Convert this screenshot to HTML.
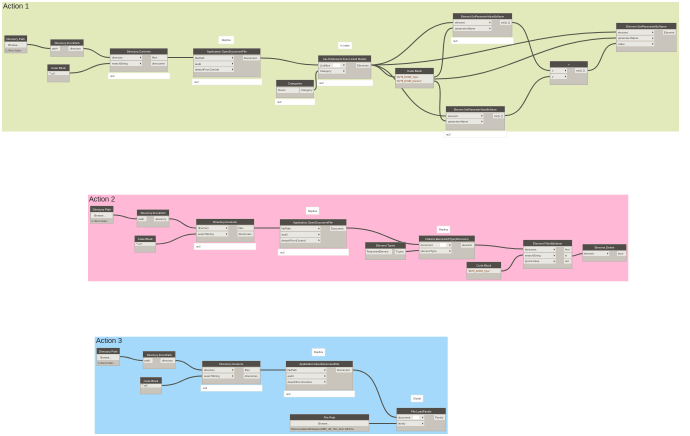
<!DOCTYPE html>
<html><head><meta charset="utf-8"><style>
html,body{margin:0;padding:0;background:#fff;width:690px;height:436px;overflow:hidden}
svg{display:block;filter:blur(.25px)}
text{font-family:"Liberation Sans",sans-serif}
.b{fill:#c9c5bc;stroke:#b3b0a8;stroke-width:.5}
.h{fill:#504c48}
.r{fill:#e9e7e1}
.n{fill:#fff}
.w{fill:#fff;stroke:#e8e8e0;stroke-width:.4}
.t{font-size:2.9px;fill:#f2f2f2;text-anchor:middle}
.l{font-size:2.8px;fill:#4a4a46}
.c{font-size:2.7px;fill:#444;text-anchor:middle}
.a{font-size:7.2px;fill:#222}
.x{fill:none;stroke:#4f5148;stroke-width:1}
</style></head><body>
<svg width="690" height="436" viewBox="0 0 690 436" xmlns="http://www.w3.org/2000/svg">
<rect x="2" y="2" width="677" height="129.5" fill="#e2e9ba"/>
<rect x="88" y="194.7" width="540.3" height="86.6" fill="#ffb8d6"/>
<rect x="94.7" y="336.7" width="353" height="97.3" fill="#a5d9fb"/>
<text class="a" x="3" y="8.5">Action 1</text>
<text class="a" x="89" y="201.5">Action 2</text>
<text class="a" x="96" y="343">Action 3</text>

<!-- connectors action 1 -->
<path class="x" d="M27 44.5C40 44.5 38 48.5 51 48.5M83 48.5C97 48.5 96 57.5 110 57.5M69.5 73C90 73 90 63.5 110 63.5M167.5 57.5H193.5M260 58C290 58 290 65 318.5 65M370 65C410 65 415 22.5 453 22.5M370 65C383 65 383 77 395.5 77M370 65C470 65 520 32 616.5 32M370 65C402 65 402 116 446 116M313.7 90C320 90 312 71 318.5 71M433.7 77C450 77 436 28 453 28M433.7 81C448 81 432 121 446 121M433.7 79C510 79 540 38 616.5 38M512 22.5C535 22.5 525 70.5 550 70.5M505 115.5C530 115.5 525 76.5 550 76.5M587.5 70.5C605 70.5 598 43.5 616.5 43.5"/>
<!-- connectors action 2 -->
<path class="x" d="M113.3 215C126 215 124 218.8 137 218.8M169 218.8C183 218.8 182 228 196.5 228M155.7 244C176 244 176 234 196.5 234M254 228H280M346.3 228C385 228 390 244.5 419 244.5M405.7 251.5C412 251.5 412 250.5 419 250.5M474.7 245C500 245 500 249 523.5 249M501 271C515 271 510 255 523.5 255M572 256C577 256 577 253.5 583 253.5"/>
<!-- connectors action 3 -->
<path class="x" d="M119.7 356.5C132 356.5 130 360.5 143 360.5M175.3 360.5C189 360.5 188 370 202.5 370M161.7 385.5C182 385.5 182 376 202.5 376M260.3 370H286M352.7 370C385 370 375 417.5 397 417.5M369 423.5H397"/>

<!-- ACTION 1 NODES -->
<g><rect class="b" x="4.5" y="35.5" width="22.5" height="17.5"/><rect class="h" x="4.5" y="35.5" width="22.5" height="6"/><text class="t" x="15.7" y="40">Directory Path</text><rect class="r" x="5" y="42" width="21.5" height="5.5"/><text class="c" x="14" y="45.8">Browse...</text><text class="l" x="5.5" y="51.4" style="font-size:2.5px">C:\Revit folder</text></g>
<g><rect class="b" x="50.5" y="39.5" width="33" height="17"/><rect class="h" x="50.5" y="39.5" width="33" height="6"/><text class="t" x="67" y="44">Directory.FromPath</text><rect class="r" x="51" y="46" width="9" height="5"/><text class="l" x="52" y="49.5">path</text><rect class="r" x="68.5" y="46" width="14.5" height="5"/><text class="l" x="70" y="49.5">directory</text></g>
<g><rect class="b" x="47.5" y="64.5" width="22" height="17.5"/><rect class="h" x="47.5" y="64.5" width="22" height="6.5"/><text class="t" x="58.5" y="69">Code Block</text><rect class="r" x="48" y="71.5" width="21" height="3.5"/><text class="l" x="49" y="74.3" style="font-size:2.4px">"*.rvt";</text></g>
<g><rect class="b" x="110" y="48.5" width="57.5" height="23"/><rect class="h" x="110" y="48.5" width="57.5" height="5.8"/><text class="t" x="138.7" y="52.6">Directory.Contents</text><rect class="r" x="110.5" y="55" width="31.5" height="5"/><rect class="r" x="110.5" y="61" width="31.5" height="5"/><rect class="r" x="151" y="55" width="16" height="5"/><rect class="r" x="151" y="61" width="16" height="5"/><text class="l" x="112" y="58.6">directory</text><text class="l" x="112" y="64.6">searchString</text><text class="l" x="152" y="58.6">files</text><text class="l" x="152" y="64.6">directories</text></g>
<rect class="w" x="108" y="73" width="62" height="6"/><text class="l" x="110" y="77">null</text>
<g><rect class="b" x="193.3" y="48.5" width="67" height="28.5"/><rect class="h" x="193.3" y="48.5" width="67" height="6"/><text class="t" x="226.8" y="52.7">Application.OpenDocumentFile</text><rect class="r" x="193.8" y="55.5" width="40" height="5"/><rect class="r" x="193.8" y="61.3" width="40" height="5"/><rect class="r" x="193.8" y="67" width="40" height="5"/><rect class="r" x="243" y="55.5" width="17" height="5"/><text class="l" x="195" y="59">filePath</text><text class="l" x="195" y="64.8">audit</text><text class="l" x="195" y="70.5">detachFromCentral</text><text class="l" x="244" y="59">Document</text></g>
<rect class="w" x="192" y="79" width="70" height="6"/><text class="l" x="194" y="83">null</text>
<rect class="w" x="218.5" y="36" width="15.5" height="8"/><text class="c" x="226.2" y="41">Replica</text>
<rect class="w" x="338" y="42" width="14" height="7"/><text class="c" x="345" y="46.5">In Index</text>
<g><rect class="b" x="318.3" y="55.5" width="52.7" height="23"/><rect class="h" x="318.3" y="55.5" width="52.7" height="6.3"/><text class="t" x="344.6" y="60" style="font-size:2.6px">Get All Elements From Linked Models</text><rect class="r" x="318.8" y="62.8" width="27" height="5"/><rect class="r" x="318.8" y="68.7" width="27" height="5"/><rect class="r" x="356" y="62.8" width="14.5" height="5"/><rect class="n" x="333" y="63.5" width="7" height="3.5"/><text class="l" x="320" y="66.4">Linkfiles</text><text class="l" x="320" y="72.2">Category</text><text class="l" x="357" y="66.4">Elements</text></g>
<rect class="w" x="317" y="80" width="56" height="6"/><text class="l" x="319" y="84">null</text>
<g><rect class="b" x="276.3" y="80" width="37.4" height="17.7"/><rect class="h" x="276.3" y="80" width="37.4" height="6.5"/><text class="t" x="295" y="84.6">Categories</text><rect class="r" x="277" y="87.5" width="22" height="5.5"/><rect class="r" x="300" y="87.5" width="13.5" height="5.5"/><text class="l" x="278" y="91">Doors</text><text class="l" x="301" y="91">Category</text></g>
<rect class="w" x="275" y="99" width="40" height="6"/><text class="l" x="277" y="103">null</text>
<g><rect class="b" x="395.3" y="68" width="38.4" height="20"/><rect class="h" x="395.3" y="68" width="38.4" height="6"/><text class="t" x="414.5" y="72.2">Code Block</text><rect class="r" x="396" y="74.7" width="37" height="8.5"/><text class="l" x="396.5" y="77.8" style="font-size:2.3px;fill:#8a4a20">"RVT8_DOOR_Type";</text><text class="l" x="396.5" y="81.8" style="font-size:2.3px;fill:#8a4a20">"RVT8_DOOR_Number";</text></g>
<g><rect class="b" x="453" y="13.3" width="59" height="23.2"/><rect class="h" x="453" y="13.3" width="59" height="5.7"/><text class="t" x="482.5" y="17.4" style="font-size:2.6px">Element.GetParameterValueByName</text><rect class="r" x="453.5" y="20" width="38" height="5"/><rect class="r" x="453.5" y="26" width="38" height="5"/><rect class="r" x="500" y="20" width="11.5" height="5"/><text class="l" x="455" y="23.5">element</text><text class="l" x="455" y="29.5">parameterName</text><text class="l" x="501" y="23.5">var[]..[]</text></g>
<rect class="w" x="451" y="37.5" width="62.5" height="6.5"/><text class="l" x="453" y="42">null</text>
<g><rect class="b" x="446" y="106.3" width="58.7" height="23.7"/><rect class="h" x="446" y="106.3" width="58.7" height="5.7"/><text class="t" x="475.3" y="110.4" style="font-size:2.6px">Element.GetParameterValueByName</text><rect class="r" x="446.5" y="113.3" width="37" height="5"/><rect class="r" x="446.5" y="119" width="37" height="5"/><rect class="r" x="493" y="113.3" width="11" height="5"/><text class="l" x="448" y="116.8">element</text><text class="l" x="448" y="122.5">parameterName</text><text class="l" x="494" y="116.8">var[]..[]</text></g>
<rect class="w" x="444" y="131" width="62.5" height="6.5"/><text class="l" x="446" y="135.5">null</text>
<g><rect class="b" x="550" y="61.3" width="37.7" height="23.4"/><rect class="h" x="550" y="61.3" width="37.7" height="6"/><text class="t" x="568.8" y="65.6">+</text><rect class="r" x="550.5" y="68" width="16.5" height="5"/><rect class="r" x="550.5" y="74" width="16.5" height="5"/><rect class="r" x="575" y="68" width="12" height="5"/><text class="l" x="552" y="71.5">x</text><text class="l" x="552" y="77.5">y</text><text class="l" x="576" y="71.5">var[]..[]</text></g>
<g><rect class="b" x="616.3" y="23" width="60" height="28.7"/><rect class="h" x="616.3" y="23" width="60" height="6"/><text class="t" x="646.3" y="27.3">Element.SetParameterByName</text><rect class="r" x="616.8" y="30" width="37.5" height="4.8"/><rect class="r" x="616.8" y="35.8" width="37.5" height="4.8"/><rect class="r" x="616.8" y="41.5" width="37.5" height="4.8"/><rect class="r" x="663" y="30" width="12.5" height="4.8"/><text class="l" x="618" y="33.4">element</text><text class="l" x="618" y="39.2">parameterName</text><text class="l" x="618" y="44.9">value</text><text class="l" x="664" y="33.4">Element</text></g>

<!-- ACTION 2 NODES -->
<g><rect class="b" x="90.3" y="206" width="23" height="17.3"/><rect class="h" x="90.3" y="206" width="23" height="6"/><text class="t" x="101.8" y="210.5">Directory Path</text><rect class="r" x="91" y="212.5" width="21.5" height="5.5"/><text class="c" x="100" y="216.3">Browse...</text><text class="l" x="91.5" y="221.8" style="font-size:2.5px">C:\Revit folder</text></g>
<g><rect class="b" x="137" y="209.7" width="32" height="17.3"/><rect class="h" x="137" y="209.7" width="32" height="6"/><text class="t" x="153" y="214.2">Directory.FromPath</text><rect class="r" x="137.5" y="216.3" width="9" height="5"/><text class="l" x="138.5" y="219.8">path</text><rect class="r" x="154" y="216.3" width="14.5" height="5"/><text class="l" x="155.5" y="219.8">directory</text></g>
<g><rect class="b" x="134.7" y="235.7" width="21" height="16.6"/><rect class="h" x="134.7" y="235.7" width="21" height="6.3"/><text class="t" x="145.2" y="240.2">Code Block</text><rect class="r" x="135.2" y="242.3" width="20" height="3.5"/><text class="l" x="136" y="245" style="font-size:2.4px">"*.rvt";</text></g>
<g><rect class="b" x="196.3" y="219" width="57.7" height="23"/><rect class="h" x="196.3" y="219" width="57.7" height="5.8"/><text class="t" x="225" y="223.1">Directory.Contents</text><rect class="r" x="196.8" y="225.5" width="31.5" height="5"/><rect class="r" x="196.8" y="231.5" width="31.5" height="5"/><rect class="r" x="237.5" y="225.5" width="16" height="5"/><rect class="r" x="237.5" y="231.5" width="16" height="5"/><text class="l" x="198" y="229">directory</text><text class="l" x="198" y="235">searchString</text><text class="l" x="238.5" y="229">files</text><text class="l" x="238.5" y="235">directories</text></g>
<rect class="w" x="194" y="243.3" width="62" height="6.4"/><text class="l" x="196" y="247.5">null</text>
<g><rect class="b" x="280" y="219.3" width="66.3" height="28.7"/><rect class="h" x="280" y="219.3" width="66.3" height="6"/><text class="t" x="313" y="223.5">Application.OpenDocumentFile</text><rect class="r" x="280.5" y="226" width="40" height="5"/><rect class="r" x="280.5" y="232" width="40" height="5"/><rect class="r" x="280.5" y="237.8" width="40" height="5"/><rect class="r" x="330" y="226" width="16" height="5"/><text class="l" x="281.5" y="229.5">filePath</text><text class="l" x="281.5" y="235.5">audit</text><text class="l" x="281.5" y="241.3">detachFromCentral</text><text class="l" x="330.7" y="229.5">Document</text></g>
<rect class="w" x="278" y="249" width="70.7" height="6.5"/><text class="l" x="280" y="253.5">null</text>
<rect class="w" x="306" y="207" width="13" height="7.5"/><text class="c" x="312.5" y="211.8">Replica</text>
<g><rect class="b" x="365.3" y="242.3" width="40.4" height="17.4"/><rect class="h" x="365.3" y="242.3" width="40.4" height="6.2"/><text class="t" x="385.5" y="246.7">Element Types</text><rect class="r" x="366" y="249" width="26" height="5.3"/><rect class="r" x="395" y="249" width="10.3" height="5.3"/><text class="l" x="366.7" y="252.5" style="font-size:2.6px">ParameterElement</text><text class="l" x="396" y="252.5">Types</text></g>
<g><rect class="b" x="419" y="235.7" width="55.7" height="23.3"/><rect class="h" x="419" y="235.7" width="55.7" height="5.8"/><text class="t" x="446.8" y="239.8" style="font-size:2.6px">Collector.ElementsOfType(Document)</text><rect class="r" x="419.5" y="242.5" width="32" height="5"/><rect class="r" x="419.5" y="248.5" width="32" height="5"/><rect class="r" x="461" y="242.7" width="13" height="5"/><rect class="n" x="440" y="243.2" width="6" height="3.6"/><text class="l" x="420.5" y="246">document</text><text class="l" x="420.5" y="252">elementType</text><text class="l" x="462" y="246.2">element</text></g>
<rect class="w" x="437" y="226" width="13" height="7"/><text class="c" x="443.5" y="230.5">Replica</text>
<g><rect class="b" x="466.7" y="262" width="34.3" height="17.3"/><rect class="h" x="466.7" y="262" width="34.3" height="6"/><text class="t" x="483.8" y="266.3">Code Block</text><rect class="r" x="467.2" y="269" width="33.3" height="4"/><text class="l" x="468" y="272.2" style="font-size:2.3px;fill:#8a4a20">"RVT8_DOOR_Type";</text></g>
<g><rect class="b" x="523.3" y="240" width="48.7" height="28.7"/><rect class="h" x="523.3" y="240" width="48.7" height="6"/><text class="t" x="547.6" y="244.3">Element.FilterByName</text><rect class="r" x="523.8" y="247" width="32" height="5"/><rect class="r" x="523.8" y="253" width="32" height="5"/><rect class="r" x="523.8" y="258.7" width="32" height="5"/><rect class="r" x="564" y="247" width="7.5" height="5"/><rect class="r" x="564" y="253" width="7.5" height="5"/><rect class="r" x="564" y="258.7" width="7.5" height="5"/><text class="l" x="525" y="250.5">elements</text><text class="l" x="525" y="256.5">searchString</text><text class="l" x="525" y="262.2">ignoreCase</text><text class="l" x="565" y="250.5">first</text><text class="l" x="565" y="256.5">in</text><text class="l" x="565" y="262.2">out</text></g>
<g><rect class="b" x="582.7" y="244.3" width="43.6" height="17"/><rect class="h" x="582.7" y="244.3" width="43.6" height="6"/><text class="t" x="604.5" y="248.6">Element.Delete</text><rect class="r" x="583.2" y="251" width="26" height="5"/><rect class="r" x="617" y="251" width="9" height="5"/><text class="l" x="584" y="254.5">element</text><text class="l" x="618" y="254.5">bool</text></g>

<!-- ACTION 3 NODES -->
<g><rect class="b" x="96.7" y="348" width="23" height="17.7"/><rect class="h" x="96.7" y="348" width="23" height="6"/><text class="t" x="108.2" y="352.4">Directory Path</text><rect class="r" x="97.2" y="354.5" width="22" height="5.5"/><text class="c" x="106" y="358.3">Browse...</text><text class="l" x="97.7" y="364" style="font-size:2.5px">C:\Revit folder</text></g>
<g><rect class="b" x="143" y="351.3" width="32.3" height="17.4"/><rect class="h" x="143" y="351.3" width="32.3" height="6"/><text class="t" x="159.2" y="355.8">Directory.FromPath</text><rect class="r" x="143.5" y="358" width="9" height="5"/><text class="l" x="144.5" y="361.5">path</text><rect class="r" x="160.5" y="358" width="14.5" height="5"/><text class="l" x="162" y="361.5">directory</text></g>
<g><rect class="b" x="140.3" y="377.3" width="21.4" height="16.7"/><rect class="h" x="140.3" y="377.3" width="21.4" height="6.3"/><text class="t" x="151" y="381.8">Code Block</text><rect class="r" x="140.8" y="384" width="20.4" height="3.5"/><text class="l" x="141.5" y="386.7" style="font-size:2.4px">"*.rfa";</text></g>
<g><rect class="b" x="202.3" y="361" width="58" height="23"/><rect class="h" x="202.3" y="361" width="58" height="5.8"/><text class="t" x="231.3" y="365.1">Directory.Contents</text><rect class="r" x="202.8" y="367.5" width="31.5" height="5"/><rect class="r" x="202.8" y="373.5" width="31.5" height="5"/><rect class="r" x="243.7" y="367.5" width="16" height="5"/><rect class="r" x="243.7" y="373.5" width="16" height="5"/><text class="l" x="204" y="371">directory</text><text class="l" x="204" y="377">searchString</text><text class="l" x="244.7" y="371">files</text><text class="l" x="244.7" y="377">directories</text></g>
<rect class="w" x="200.7" y="385" width="61.6" height="6.3"/><text class="l" x="202.7" y="389.2">null</text>
<g><rect class="b" x="286" y="361" width="66.7" height="29"/><rect class="h" x="286" y="361" width="66.7" height="6"/><text class="t" x="319.3" y="365.2">Application.OpenDocumentFile</text><rect class="r" x="286.5" y="367.5" width="40" height="5"/><rect class="r" x="286.5" y="373.5" width="40" height="5"/><rect class="r" x="286.5" y="379.3" width="40" height="5"/><rect class="r" x="336" y="367.5" width="16" height="5"/><text class="l" x="287.5" y="371">filePath</text><text class="l" x="287.5" y="377">audit</text><text class="l" x="287.5" y="382.8">detachFromCentral</text><text class="l" x="337" y="371">Document</text></g>
<rect class="w" x="284" y="390.7" width="70.7" height="6.3"/><text class="l" x="286" y="395">null</text>
<rect class="w" x="312" y="348.5" width="13" height="7.5"/><text class="c" x="318.5" y="353.2">Replica</text>
<rect class="w" x="411" y="395" width="12" height="7"/><text class="c" x="417" y="399.5">Global</text>
<g><rect class="b" x="396.7" y="408" width="49" height="23"/><rect class="h" x="396.7" y="408" width="49" height="6"/><text class="t" x="421.2" y="412.3">File.LoadFamily</text><rect class="r" x="397.2" y="415" width="27" height="5"/><rect class="r" x="397.2" y="421" width="27" height="5"/><rect class="r" x="434" y="415" width="11" height="5"/><rect class="n" x="413" y="415.7" width="6" height="3.5"/><text class="l" x="398" y="418.5">document</text><text class="l" x="398" y="424.5">family</text><text class="l" x="435" y="418.5">Family</text></g>
<g><rect class="b" x="290" y="414.3" width="79" height="17"/><rect class="h" x="290" y="414.3" width="79" height="5.7"/><text class="t" x="329.5" y="418.4">File Path</text><rect class="r" x="290.5" y="421" width="78" height="5"/><text class="c" x="324" y="424.5">Browse...</text><text class="l" x="290.8" y="430" style="font-size:2.4px;fill:#333">\\Documentation\Workspace\MRK_AR_TAG_Door 2019.rfa</text></g>

<!-- port arrows -->
<path fill="#444" d="M140 56.5l1.2 1-1.2 1zM140 62.5l1.2 1-1.2 1zM232 56.8l1.2 1-1.2 1zM232 62.6l1.2 1-1.2 1zM232 68.4l1.2 1-1.2 1zM343.5 64l1.2 1-1.2 1zM343.5 70l1.2 1-1.2 1zM489.5 21.5l1.2 1-1.2 1zM489.5 27.5l1.2 1-1.2 1zM481.5 114.8l1.2 1-1.2 1zM481.5 120.5l1.2 1-1.2 1zM565 69.5l1.2 1-1.2 1zM565 75.5l1.2 1-1.2 1zM652.3 31.4l1.2 1-1.2 1zM652.3 37.2l1.2 1-1.2 1zM652.3 42.9l1.2 1-1.2 1zM226.3 227l1.2 1-1.2 1zM226.3 233l1.2 1-1.2 1zM318.5 227.5l1.2 1-1.2 1zM318.5 233.5l1.2 1-1.2 1zM318.5 239.3l1.2 1-1.2 1zM449.5 244l1.2 1-1.2 1zM449.5 250l1.2 1-1.2 1zM553.8 248.5l1.2 1-1.2 1zM553.8 254.5l1.2 1-1.2 1zM553.8 260.2l1.2 1-1.2 1zM607.2 252.5l1.2 1-1.2 1zM232.3 369l1.2 1-1.2 1zM232.3 375l1.2 1-1.2 1zM324.5 369l1.2 1-1.2 1zM324.5 375l1.2 1-1.2 1zM324.5 380.8l1.2 1-1.2 1zM422.2 416.5l1.2 1-1.2 1zM422.2 422.5l1.2 1-1.2 1z"/>
</svg>
</body></html>
